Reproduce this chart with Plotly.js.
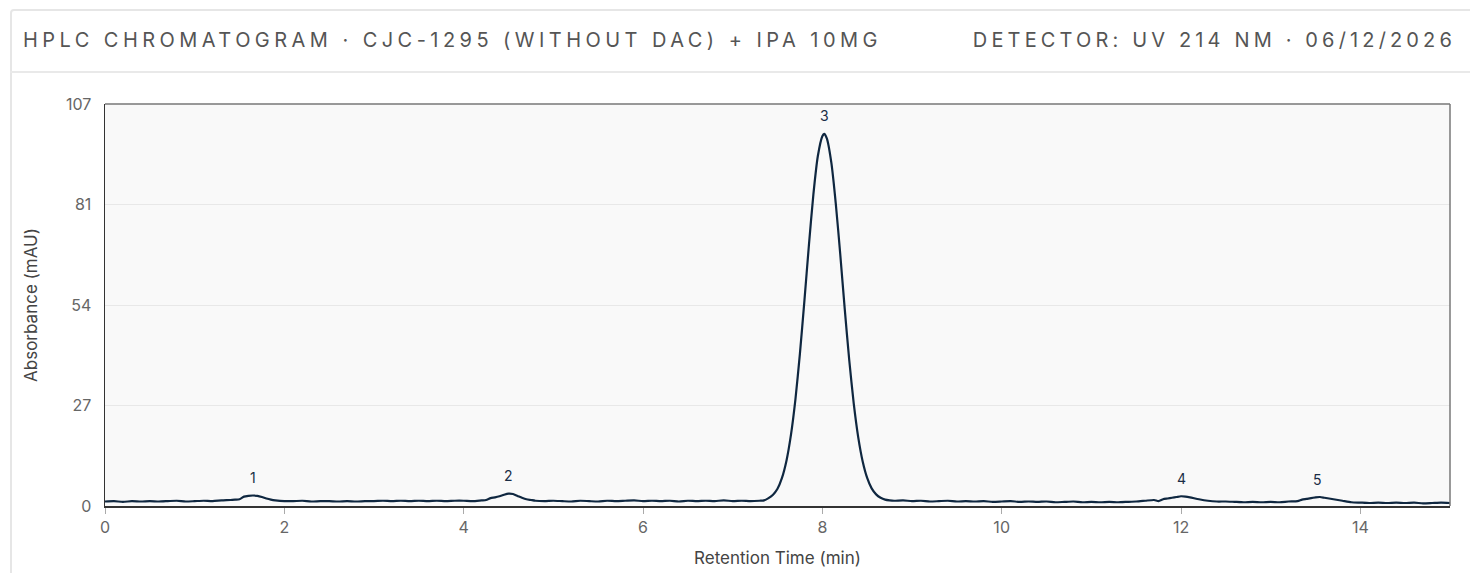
<!DOCTYPE html>
<html>
<head>
<meta charset="utf-8">
<script src="https://cdn.plot.ly/plotly-3.0.1.min.js"></script>
<style>
  html, body { margin: 0; padding: 0; background: #ffffff; width: 1470px; height: 573px; overflow: hidden; font-family: Inter, "Noto Sans", sans-serif; }
  #card { position: absolute; left: 10px; top: 9px; width: 1500px; height: 620px; border: 2px solid #e6e6e6; border-radius: 4px; box-sizing: border-box; }
  #sep { position: absolute; left: 10px; top: 71px; width: 1500px; height: 2px; background: #e9e9e9; }
  .hdr { position: absolute; top: 28px; font-size: 20px; color: #555555; white-space: nowrap; line-height: 24px; }
  #hl { left: 23px; letter-spacing: 4.45px; }
  #hr { right: 14px; letter-spacing: 4.15px; }
  #chart { position: absolute; left: 0; top: 72px; width: 1470px; height: 501px; }
</style>
</head>
<body>
<div id="card"></div>
<div id="sep"></div>
<div class="hdr" id="hl">HPLC CHROMATOGRAM · CJC-1295 (WITHOUT DAC) + IPA 10MG</div>
<div class="hdr" id="hr">DETECTOR: UV 214 NM · 06/12/2026</div>
<div id="chart"></div>
<script>
// Retention time (min) and absorbance (mAU)
const retentionTime = [
  0.0,0.1,0.2,0.3,0.4,0.5,0.6,0.7,0.8,0.9,1.0,1.1,1.2,1.3,1.4,1.45,1.5,1.55,1.6,1.65,1.7,1.75,1.8,1.85,1.9,
  2.0,2.1,2.2,2.3,2.4,2.5,2.6,2.7,2.8,2.9,3.0,3.1,3.2,3.3,3.4,3.5,3.6,3.7,3.8,3.9,4.0,4.1,4.2,4.25,4.3,4.35,4.4,4.45,4.5,4.55,4.6,4.65,4.7,4.75,4.8,4.9,
  5.0,5.1,5.2,5.3,5.4,5.5,5.6,5.7,5.8,5.9,6.0,6.1,6.2,6.3,6.4,6.5,6.6,6.7,6.8,6.9,7.0,7.1,7.2,7.3,7.35,
  7.4,7.45,7.5,7.55,7.6,7.65,7.7,7.75,7.8,7.85,7.9,7.95,8.0,8.02,8.05,8.1,8.15,8.2,8.25,8.3,8.35,8.4,8.45,8.5,8.55,8.6,8.65,8.7,8.75,
  8.8,8.9,9.0,9.1,9.2,9.3,9.4,9.5,9.6,9.7,9.8,9.9,10.0,10.1,10.2,10.3,10.4,10.5,10.6,10.7,10.8,10.9,11.0,11.1,11.2,11.3,11.4,11.5,11.6,11.7,11.75,
  11.8,11.85,11.9,11.95,12.0,12.05,12.1,12.2,12.3,12.4,12.5,12.6,12.7,12.8,12.9,13.0,13.1,13.2,13.3,13.35,13.4,13.5,13.55,13.6,13.7,13.8,13.9,
  14.0,14.1,14.2,14.3,14.4,14.5,14.6,14.7,14.8,14.9,15.0
];
const absorbance = [
  1.2,1.3,1.1,1.3,1.2,1.3,1.2,1.3,1.4,1.2,1.3,1.4,1.3,1.5,1.6,1.7,1.8,2.5,2.7,2.8,2.7,2.4,2.0,1.7,1.5,
  1.3,1.3,1.4,1.2,1.3,1.3,1.2,1.3,1.2,1.3,1.3,1.4,1.3,1.4,1.3,1.4,1.3,1.4,1.3,1.4,1.4,1.3,1.5,1.6,2.1,2.3,2.6,3.0,3.3,3.2,2.7,2.2,1.8,1.6,1.4,1.3,
  1.4,1.3,1.2,1.4,1.3,1.2,1.4,1.3,1.4,1.5,1.3,1.4,1.3,1.4,1.2,1.4,1.3,1.4,1.3,1.5,1.3,1.4,1.3,1.4,1.5,
  2.1,3.0,4.6,7.5,12.1,19.0,28.5,40.7,54.8,69.6,83.2,93.5,98.8,99.4,98.2,91.8,80.8,67.2,52.6,39.0,27.4,18.4,11.9,7.5,4.7,3.1,2.2,1.7,1.5,
  1.4,1.5,1.3,1.4,1.2,1.3,1.4,1.2,1.3,1.2,1.3,1.1,1.2,1.3,1.1,1.2,1.1,1.2,1.0,1.1,1.2,1.0,1.1,1.0,1.1,1.0,1.1,1.2,1.4,1.6,1.3,
  1.8,2.0,2.2,2.4,2.6,2.5,2.3,1.8,1.4,1.2,1.2,1.1,1.0,1.1,1.0,1.1,1.0,1.2,1.3,1.7,1.9,2.3,2.4,2.2,1.8,1.4,1.0,
  0.9,0.8,0.9,0.8,0.9,0.8,0.9,0.7,0.8,0.9,0.8
];

// Peak annotations
const peakTimes   = [1.65, 4.5, 8.02, 12.0, 13.52];
const peakHeights = [2.8, 3.3, 99.4, 2.6, 2.4];
const peakLabels  = ["1", "2", "3", "4", "5"];

// Axis ticks
const xTickVals = [0, 2, 4, 6, 8, 10, 12, 14];
const yRangeMax = 107.4;
const yTickVals = [0, 26.85, 53.7, 80.55, 107.4];
const yTickText = ["0", "27", "54", "81", "107"];

const trace = {
  x: retentionTime,
  y: absorbance,
  type: "scatter",
  mode: "lines",
  line: { color: "#0f2740", width: 2.2, shape: "spline", smoothing: 0.6 },
  hoverinfo: "x+y"
};

const annotations = peakTimes.map((t, i) => ({
  x: t, y: peakHeights[i], xref: "x", yref: "y",
  text: peakLabels[i], showarrow: false,
  yanchor: "middle", yshift: 18,
  font: { family: "Inter, sans-serif", size: 14, color: "#1a2d45" }
}));

const layout = {
  width: 1470, height: 501,
  margin: { l: 105, r: 20, t: 32, b: 67 },
  paper_bgcolor: "rgba(0,0,0,0)",
  plot_bgcolor: "#f9f9f9",
  showlegend: false,
  font: { family: "Inter, sans-serif", size: 16, color: "#555" },
  xaxis: {
    range: [0, 15],
    tickvals: xTickVals,
    ticks: "outside", ticklen: 6, tickcolor: "#aaaaaa", tickwidth: 1,
    showgrid: false, zeroline: false,
    showline: true, linecolor: "#333333", linewidth: 1.5,
    tickfont: { family: "Inter, sans-serif", size: 16, color: "#666" },
    title: { text: "Retention Time (min)", font: { family: "Inter, sans-serif", size: 17, color: "#444" }, standoff: 16 }
  },
  yaxis: {
    range: [0, yRangeMax],
    tickvals: yTickVals, ticktext: yTickText,
    ticks: "", ticklabelstandoff: 9,
    showgrid: true, gridcolor: "#e8e8e8", gridwidth: 1,
    zeroline: false,
    showline: true, linecolor: "#333333", linewidth: 1.5,
    tickfont: { family: "Inter, sans-serif", size: 16, color: "#666" },
    title: { text: "Absorbance (mAU)", font: { family: "Inter, sans-serif", size: 17, color: "#444" }, standoff: 24 }
  },
  shapes: [
    { type: "line", xref: "paper", yref: "paper", x0: 0, x1: 1, y0: 1, y1: 1, line: { color: "#777777", width: 1.5 } },
    { type: "line", xref: "paper", yref: "paper", x0: 1, x1: 1, y0: 0, y1: 1, line: { color: "#777777", width: 1.5 } }
  ],
  annotations: annotations
};

Plotly.newPlot("chart", [trace], layout, { displayModeBar: false, staticPlot: true });
</script>
</body>
</html>
